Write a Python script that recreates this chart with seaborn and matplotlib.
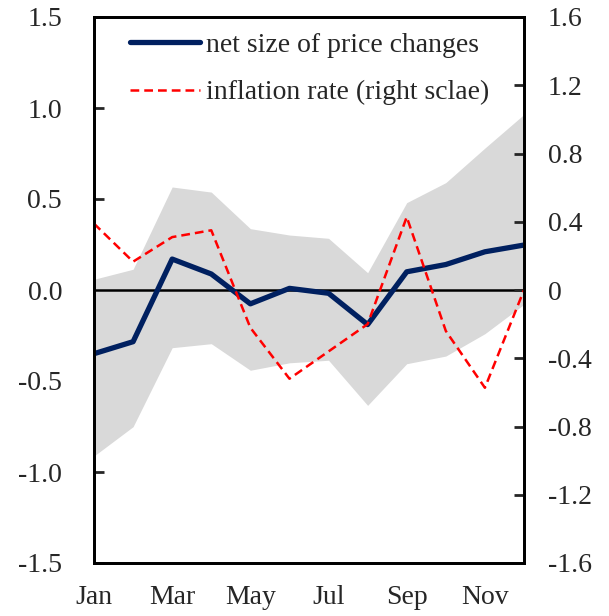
import matplotlib
matplotlib.use("Agg")
import matplotlib.pyplot as plt
import seaborn as sns
import pandas as pd

months = ["Jan", "Feb", "Mar", "Apr", "May", "Jun", "Jul", "Aug", "Sep", "Oct", "Nov", "Dec"]
net_size = [-0.35, -0.284, 0.17, 0.088, -0.076, 0.009, -0.018, -0.19, 0.10, 0.14, 0.21, 0.247]
band_upper = [0.059, 0.114, 0.566, 0.538, 0.337, 0.302, 0.284, 0.095, 0.48, 0.59, 0.78, 0.965]
band_lower = [-0.912, -0.751, -0.317, -0.295, -0.441, -0.40, -0.386, -0.634, -0.405, -0.363, -0.24, -0.079]
inflation = [0.389, 0.166, 0.31, 0.35, -0.221, -0.52, -0.36, -0.20, 0.428, -0.24, -0.573, 0.0]

left_ticks = [-1.5, -1.0, -0.5, 0.0, 0.5, 1.0, 1.5]
right_ticks = [-1.6, -1.2, -0.8, -0.4, 0, 0.4, 0.8, 1.2, 1.6]
right_labels = ["-1.6", "-1.2", "-0.8", "-0.4", "0", "0.4", "0.8", "1.2", "1.6"]

df = pd.DataFrame({"x": range(len(months)), "net": net_size, "lo": band_lower,
                   "hi": band_upper, "infl": inflation})

sns.set_style("white")
plt.rcParams["font.family"] = ["Liberation Serif", "DejaVu Serif"]
plt.rcParams["font.size"] = 20

fig = plt.figure(figsize=(6.09, 6.16), dpi=100)
ax = fig.add_axes([94 / 609, 1 - 563 / 616, 430 / 609, 546 / 616])
ax2 = ax.twinx()

ax.fill_between(df["x"], df["lo"], df["hi"], color="#d9d9d9", lw=0, zorder=1)
ax.axhline(0, color="black", lw=1.8, zorder=2)
sns.lineplot(data=df, x="x", y="net", ax=ax, color="#002060", lw=3.8,
             label="net size of price changes", zorder=3, legend=False)
sns.lineplot(data=df, x="x", y="infl", ax=ax2, color="#ff0000", lw=1.8,
             linestyle=(0, (3.5, 2)), label="inflation rate (right sclae)", legend=False)

ax.set_xlim(0, 11)
ax.set_ylim(-1.5, 1.5)
ax2.set_ylim(-1.6, 1.6)
ax.set_xticks(range(12))
ax.set_xticklabels([m if i % 2 == 0 else "" for i, m in enumerate(months)])
ax.set_yticks(left_ticks)
ax.set_yticklabels([f"{v:.1f}" for v in left_ticks])
ax2.set_yticks(right_ticks)
ax2.set_yticklabels(right_labels)
ax.set_xlabel("")
ax.set_ylabel("")
ax2.set_ylabel("")

for a in (ax, ax2):
    for s in a.spines.values():
        s.set_color("black")
        s.set_linewidth(2)
ax.tick_params(axis="x", direction="out", length=6.5, width=2, pad=9)
ax.tick_params(axis="y", direction="in", length=7, width=2, left=True, pad=23)
ax2.tick_params(axis="y", direction="in", length=7, width=2, right=True, pad=17)

h1, l1 = ax.get_legend_handles_labels()
h2, l2 = ax2.get_legend_handles_labels()
ax2.legend(h1 + h2, l1 + l2, loc="upper left", bbox_to_anchor=(0.026, 1.018),
           frameon=False, handlelength=2.5, handletextpad=0.22, labelspacing=0.8,
           fontsize=20)

fig.savefig("out.png", dpi=100)
